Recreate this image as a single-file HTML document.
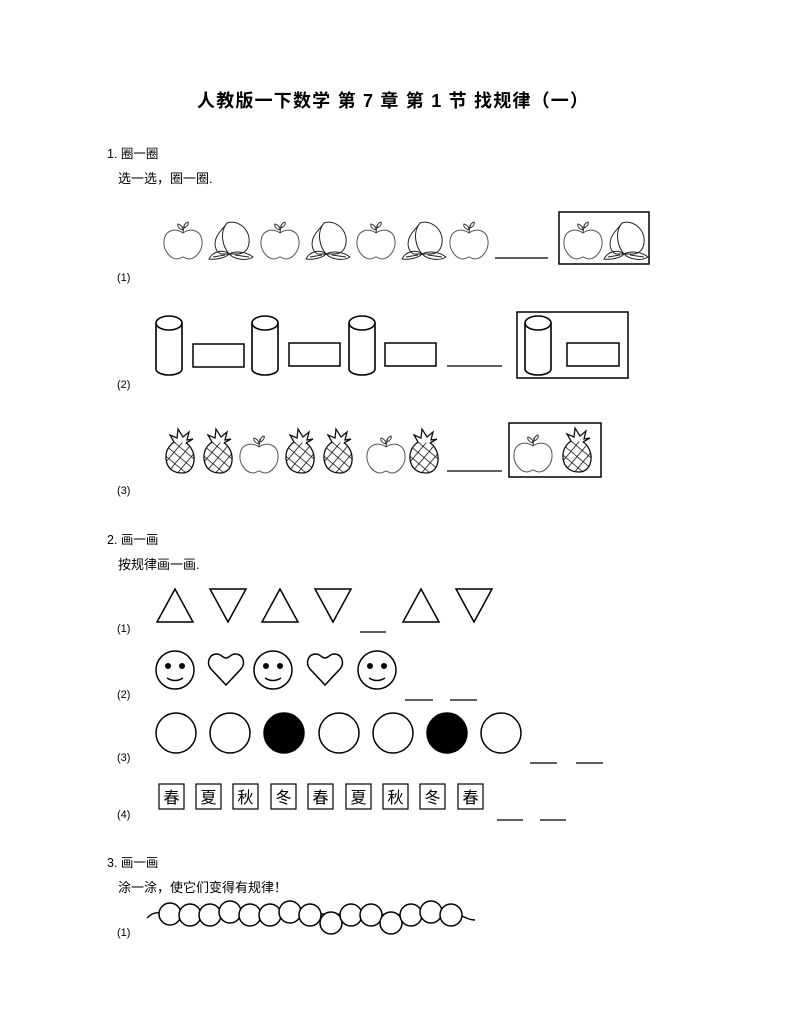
<!DOCTYPE html>
<html><head><meta charset="utf-8"><style>
html,body{margin:0;padding:0;background:#fff}
svg text{font-family:"Liberation Sans","Noto Sans CJK SC",sans-serif;fill:#000}
</style></head><body>
<svg width="794" height="1028" viewBox="0 0 794 1028" xmlns="http://www.w3.org/2000/svg">
<defs>
<g id="apple" fill="none" stroke="#555" stroke-width="1">
 <path d="M0,-8 C-6,-13 -18,-12 -19,0 C-20,10 -12,18 -6,18 C-3,18 -1,16 0,16 C1,16 3,18 6,18 C12,18 20,10 19,0 C18,-12 6,-13 0,-8 Z"/>
 <path d="M0,-8 L1,-16" stroke="#333"/>
 <path d="M0,-11 C-4,-12 -6,-15 -5,-17 C-2,-16 0,-14 0,-11 Z" stroke="#333"/>
 <path d="M1,-13 C4,-14 6,-17 5,-19 C2,-18 1,-16 1,-13 Z" stroke="#333"/>
</g>
<g id="peach" fill="none" stroke="#222" stroke-width="1">
 <path d="M-4,-18 C6,-22 20,-12 18,2 C17,10 12,13 6,13 L-10,13 C-17,10 -18,0 -12,-8 C-8,-13 -6,-15 -4,-18 Z"/>
 <path d="M-4,-18 C-12,-8 -8,6 -2,13"/>
 <path d="M-2,13 C-8,8 -18,10 -22,18 C-14,19 -6,17 -2,13 Z"/>
 <path d="M-2,13 C4,19 16,20 22,16 C14,10 4,10 -2,13 Z"/>
 <path d="M-18,16 L-6,14 M4,14 L18,16"/>
</g>
<pattern id="hatch" width="8" height="8" patternUnits="userSpaceOnUse" patternTransform="rotate(40)">
 <path d="M0,0 L0,8 M0,0 L8,0" stroke="#111" stroke-width="1.6"/>
</pattern>
<g id="pine" stroke="#111" stroke-width="1.3">
 <path d="M-1,-16 C10,-16 15,-4 14,4 C13,12 8,16 2,16 C-6,16 -13,12 -14,2 C-15,-8 -8,-16 -1,-16 Z" fill="url(#hatch)"/>
 <path d="M-6,-15 L-10,-22 L-3,-19 L-2,-28 L3,-20 L9,-25 L7,-17 L13,-18 L6,-14" fill="#fff"/>
</g>
<g id="cyl" fill="none" stroke="#000" stroke-width="1.6">
 <path d="M-13,-23 L-13,23 A13,6 0 0 0 13,23 L13,-23"/>
 <ellipse cx="0" cy="-23" rx="13" ry="7"/>
</g>
<g id="smile" fill="none" stroke="#000" stroke-width="1.5">
 <circle r="19"/>
 <circle cx="-7" cy="-4" r="3" fill="#000" stroke="none"/>
 <circle cx="7" cy="-4" r="3" fill="#000" stroke="none"/>
 <path d="M-8,8 Q0,13 8,8"/>
</g>
<g id="heart" fill="none" stroke="#000" stroke-width="1.5">
 <path d="M0,16 L-15,0 C-20,-6 -17,-15 -9,-15 C-5,-15 -3,-11 0,-11 C3,-11 5,-15 9,-15 C17,-15 20,-6 15,0 Z"/>
</g>
</defs>

<text x="197" y="107" font-size="18" font-weight="bold" textLength="391" lengthAdjust="spacing">人教版一下数学  第 7 章  第 1 节  找规律（一）</text>

<text x="107" y="158" font-size="12.5">1.  圈一圈</text>
<text x="118" y="183" font-size="13">选一选，圈一圈.</text>

<use href="#apple" x="183" y="241"/>
<use href="#peach" x="231" y="241"/>
<use href="#apple" x="280" y="241"/>
<use href="#peach" x="328" y="241"/>
<use href="#apple" x="376" y="241"/>
<use href="#peach" x="424" y="241"/>
<use href="#apple" x="469" y="241"/>
<line x1="495" y1="258" x2="548" y2="258" stroke="#000" stroke-width="1.2"/>
<rect x="559" y="212" width="90" height="52" fill="none" stroke="#000" stroke-width="1.5"/>
<use href="#apple" x="583" y="241"/>
<use href="#peach" x="626" y="241"/>
<text x="117" y="281" font-size="11">(1)</text>

<use href="#cyl" x="169" y="346"/>
<rect x="193" y="344" width="51" height="23" fill="none" stroke="#000" stroke-width="1.5"/>
<use href="#cyl" x="265" y="346"/>
<rect x="289" y="343" width="51" height="23" fill="none" stroke="#000" stroke-width="1.5"/>
<use href="#cyl" x="362" y="346"/>
<rect x="385" y="343" width="51" height="23" fill="none" stroke="#000" stroke-width="1.5"/>
<line x1="447" y1="366" x2="502" y2="366" stroke="#000" stroke-width="1.2"/>
<rect x="517" y="312" width="111" height="66" fill="none" stroke="#000" stroke-width="1.5"/>
<use href="#cyl" x="538" y="346"/>
<rect x="567" y="343" width="52" height="23" fill="none" stroke="#000" stroke-width="1.5"/>
<text x="117" y="388" font-size="11">(2)</text>

<use href="#pine" x="180" y="457"/>
<use href="#pine" x="218" y="457"/>
<use href="#apple" x="259" y="455"/>
<use href="#pine" x="300" y="457"/>
<use href="#pine" x="338" y="457"/>
<use href="#apple" x="386" y="455"/>
<use href="#pine" x="424" y="457"/>
<line x1="447" y1="471" x2="502" y2="471" stroke="#000" stroke-width="1.2"/>
<rect x="509" y="423" width="92" height="54" fill="none" stroke="#000" stroke-width="1.5"/>
<use href="#apple" x="533" y="454"/>
<use href="#pine" x="577" y="456"/>
<text x="117" y="494" font-size="11">(3)</text>

<text x="107" y="544" font-size="12.5">2.  画一画</text>
<text x="118" y="569" font-size="13">按规律画一画.</text>

<g fill="none" stroke="#000" stroke-width="1.5">
 <path d="M175,589 L193,622 L157,622 Z"/>
 <path d="M210,589 L246,589 L228,622 Z"/>
 <path d="M280,589 L298,622 L262,622 Z"/>
 <path d="M315,589 L351,589 L333,622 Z"/>
 <path d="M421,589 L439,622 L403,622 Z"/>
 <path d="M456,589 L492,589 L474,622 Z"/>
</g>
<line x1="360" y1="632" x2="386" y2="632" stroke="#000" stroke-width="1.2"/>
<text x="117" y="632" font-size="11">(1)</text>

<use href="#smile" x="175" y="670"/>
<use href="#heart" x="226" y="669"/>
<use href="#smile" x="273" y="670"/>
<use href="#heart" x="325" y="669"/>
<use href="#smile" x="377" y="670"/>
<line x1="405" y1="700" x2="433" y2="700" stroke="#000" stroke-width="1.2"/>
<line x1="450" y1="700" x2="477" y2="700" stroke="#000" stroke-width="1.2"/>
<text x="117" y="698" font-size="11">(2)</text>

<g stroke="#000" stroke-width="1.5" fill="none">
 <circle cx="176" cy="733" r="20"/>
 <circle cx="230" cy="733" r="20"/>
 <circle cx="284" cy="733" r="20" fill="#000"/>
 <circle cx="339" cy="733" r="20"/>
 <circle cx="393" cy="733" r="20"/>
 <circle cx="447" cy="733" r="20" fill="#000"/>
 <circle cx="501" cy="733" r="20"/>
</g>
<line x1="530" y1="763" x2="557" y2="763" stroke="#000" stroke-width="1.2"/>
<line x1="576" y1="763" x2="603" y2="763" stroke="#000" stroke-width="1.2"/>
<text x="117" y="761" font-size="11">(3)</text>

<g font-size="16" text-anchor="middle">
 <rect x="159" y="784" width="25" height="25" fill="none" stroke="#000" stroke-width="1.2"/><text x="171.5" y="803" font-family="'Noto Serif CJK SC',serif">春</text>
 <rect x="196" y="784" width="25" height="25" fill="none" stroke="#000" stroke-width="1.2"/><text x="208.5" y="803" font-family="'Noto Serif CJK SC',serif">夏</text>
 <rect x="233" y="784" width="25" height="25" fill="none" stroke="#000" stroke-width="1.2"/><text x="245.5" y="803" font-family="'Noto Serif CJK SC',serif">秋</text>
 <rect x="271" y="784" width="25" height="25" fill="none" stroke="#000" stroke-width="1.2"/><text x="283.5" y="803" font-family="'Noto Serif CJK SC',serif">冬</text>
 <rect x="308" y="784" width="25" height="25" fill="none" stroke="#000" stroke-width="1.2"/><text x="320.5" y="803" font-family="'Noto Serif CJK SC',serif">春</text>
 <rect x="346" y="784" width="25" height="25" fill="none" stroke="#000" stroke-width="1.2"/><text x="358.5" y="803" font-family="'Noto Serif CJK SC',serif">夏</text>
 <rect x="383" y="784" width="25" height="25" fill="none" stroke="#000" stroke-width="1.2"/><text x="395.5" y="803" font-family="'Noto Serif CJK SC',serif">秋</text>
 <rect x="420" y="784" width="25" height="25" fill="none" stroke="#000" stroke-width="1.2"/><text x="432.5" y="803" font-family="'Noto Serif CJK SC',serif">冬</text>
 <rect x="458" y="784" width="25" height="25" fill="none" stroke="#000" stroke-width="1.2"/><text x="470.5" y="803" font-family="'Noto Serif CJK SC',serif">春</text>
</g>
<line x1="497" y1="820" x2="523" y2="820" stroke="#000" stroke-width="1.2"/>
<line x1="540" y1="820" x2="566" y2="820" stroke="#000" stroke-width="1.2"/>
<text x="117" y="818" font-size="11">(4)</text>

<text x="107" y="867" font-size="12.5">3.  画一画</text>
<text x="118" y="892" font-size="13">涂一涂，使它们变得有规律！</text>

<path d="M147,918 C152,913 156,912 160,913 L460,915 C466,918 470,920 475,920" fill="none" stroke="#000" stroke-width="1.4"/>
<g fill="#fff" stroke="#000" stroke-width="1.5">
 <circle cx="170" cy="914" r="11"/>
 <circle cx="190" cy="915" r="11"/>
 <circle cx="210" cy="915" r="11"/>
 <circle cx="230" cy="912" r="11"/>
 <circle cx="250" cy="915" r="11"/>
 <circle cx="270" cy="915" r="11"/>
 <circle cx="290" cy="912" r="11"/>
 <circle cx="310" cy="915" r="11"/>
 <circle cx="331" cy="923" r="11"/>
 <circle cx="351" cy="915" r="11"/>
 <circle cx="371" cy="915" r="11"/>
 <circle cx="391" cy="923" r="11"/>
 <circle cx="411" cy="915" r="11"/>
 <circle cx="431" cy="912" r="11"/>
 <circle cx="451" cy="915" r="11"/>
</g>
<text x="117" y="936" font-size="11">(1)</text>
</svg>
</body></html>
